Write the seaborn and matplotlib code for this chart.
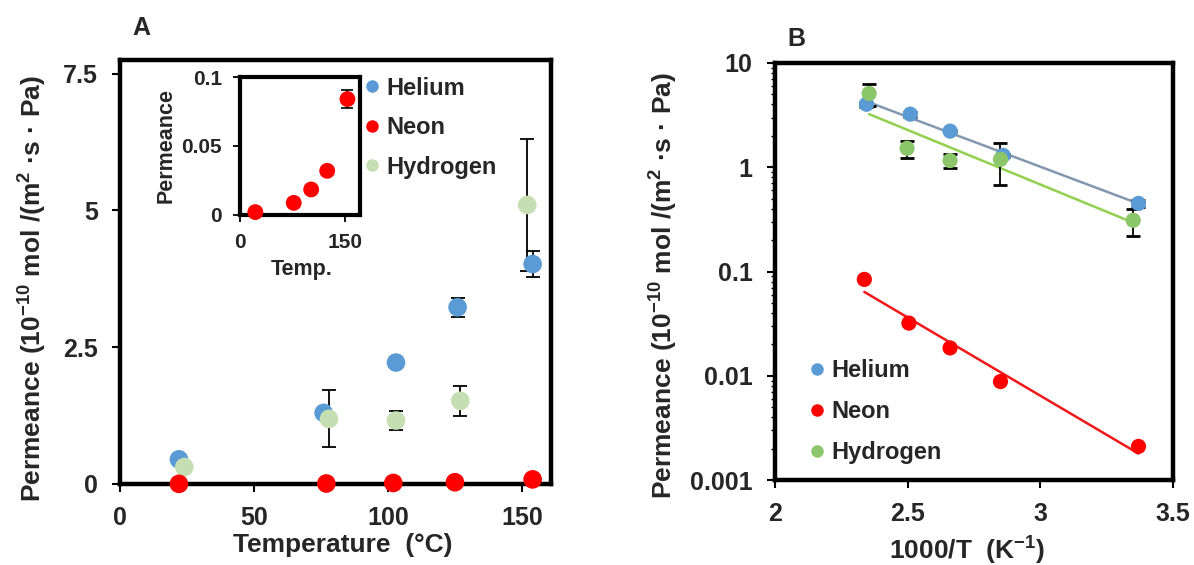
import numpy as np
import pandas as pd
import matplotlib
matplotlib.use("Agg")
import matplotlib.pyplot as plt
from matplotlib.lines import Line2D
import seaborn as sns

# ---------------- data ----------------
gases = ["Helium", "Neon", "Hydrogen"]

temp_he = [22, 76, 103, 126, 154]
temp_ne = [22, 77, 102, 125, 154]
temp_h2 = [24, 78, 103, 127, 152]

perm_he = [0.45, 1.30, 2.22, 3.23, 4.02]
perm_ne = [0.0021, 0.0088, 0.0185, 0.032, 0.084]
perm_h2 = [0.31, 1.19, 1.16, 1.52, 5.10]

err_he = [0.03, 0.05, 0.05, 0.17, 0.23]
err_ne = [0.0, 0.0, 0.0, 0.001, 0.0065]
err_h2 = [0.09, 0.52, 0.17, 0.28, 1.20]

# 1000/T for the same five measurements (same order as the temperatures)
invT_he = [3.37, 2.86, 2.66, 2.51, 2.345]
invT_ne = [3.37, 2.85, 2.66, 2.505, 2.337]
invT_h2 = [3.35, 2.85, 2.66, 2.498, 2.355]

ticksA_x = [0, 50, 100, 150]
ticksA_y = [0, 2.5, 5, 7.5]
ticklabA_y = ["0", "2.5", "5", "7.5"]
ticksB_x = [2, 2.5, 3, 3.5]
ticklabB_x = ["2", "2.5", "3", "3.5"]
ticksB_y = [0.001, 0.01, 0.1, 1, 10]
ticklabB_y = ["0.001", "0.01", "0.1", "1", "10"]
ticksI_x = [0, 150]
ticksI_y = [0, 0.05, 0.1]
ticklabI_y = ["0", "0.05", "0.1"]

colA = {"Helium": "#5B9BD5", "Neon": "#FF0000", "Hydrogen": "#C5DEB2"}
colB = {"Helium": "#5B9BD5", "Neon": "#FF0000", "Hydrogen": "#8CC66A"}
lineB = {"Helium": "#8497B0", "Neon": "#F01818", "Hydrogen": "#92D050"}

# ---------------- style ----------------
sns.set_theme(style="white")
plt.rcParams["font.family"] = ["Liberation Sans", "DejaVu Sans"]
plt.rcParams["font.weight"] = "bold"
plt.rcParams["mathtext.fontset"] = "custom"
plt.rcParams["mathtext.rm"] = "Liberation Sans:bold"
plt.rcParams["mathtext.bf"] = "Liberation Sans:bold"
plt.rcParams["mathtext.it"] = "Liberation Sans:bold"

TICK_FS = 18
LABEL_FS = 19
LEG_FS = 17

temps = {"Helium": temp_he, "Neon": temp_ne, "Hydrogen": temp_h2}
perms = {"Helium": perm_he, "Neon": perm_ne, "Hydrogen": perm_h2}
errs = {"Helium": err_he, "Neon": err_ne, "Hydrogen": err_h2}
invs = {"Helium": invT_he, "Neon": invT_ne, "Hydrogen": invT_h2}

draw_order = ["Helium", "Hydrogen", "Neon"]
rowsA, rowsB = [], []
for g in draw_order:
    for t, x, p, e in zip(temps[g], invs[g], perms[g], errs[g]):
        rowsA.append({"gas": g, "temp": t, "perm": p, "err": e})
        rowsB.append({"gas": g, "invT": x, "perm": p, "err": e})
dfA = pd.DataFrame(rowsA)
dfB = pd.DataFrame(rowsB)

fig = plt.figure(figsize=(11.94, 5.65), dpi=100)
axA = fig.add_axes([0.1005, 0.1434, 0.3613, 0.7504])
axB = fig.add_axes([0.649, 0.1504, 0.3334, 0.7381])
axI = fig.add_axes([0.201, 0.6195, 0.1005, 0.2442])

def frame(ax, lw=3.2):
    for s in ax.spines.values():
        s.set_visible(True)
        s.set_color("black")
        s.set_linewidth(lw)

def bold_ticks(ax):
    for lab in ax.get_xticklabels() + ax.get_yticklabels():
        lab.set_fontweight("bold")

# ---------------- panel A ----------------
for g in ["Helium", "Hydrogen"]:
    d = dfA[dfA.gas == g]
    axA.errorbar(d.temp, d.perm, yerr=d.err, fmt="none", ecolor="black",
                 elinewidth=1.3, capsize=5, capthick=1.3, zorder=2)
sns.scatterplot(data=dfA, x="temp", y="perm", hue="gas", palette=colA,
                hue_order=gases, s=180, edgecolor="none", linewidth=0,
                legend=False, ax=axA, zorder=3, clip_on=False)
axA.set_xlim(0, 161)
axA.set_ylim(0, 7.75)
axA.set_xticks(ticksA_x)
axA.set_xticklabels([str(t) for t in ticksA_x])
axA.set_yticks(ticksA_y)
axA.set_yticklabels(ticklabA_y)
frame(axA)
axA.tick_params(axis="both", which="major", direction="out", length=6,
                width=1.5, color="black", labelsize=TICK_FS, pad=10,
                bottom=True, left=True, top=False, right=False)
bold_ticks(axA)
axA.set_xlabel("Temperature  (°C)", fontsize=LABEL_FS, fontweight="bold")
axA.set_ylabel(r"Permeance (10$^{-10}$ mol /(m$^{2}$ ·s · Pa)",
               fontsize=LABEL_FS, fontweight="bold")
axA.xaxis.set_label_coords(0.516, -0.116)
axA.yaxis.set_label_coords(-0.165, 0.46)

handlesA = [Line2D([], [], marker="o", linestyle="none", markersize=9,
                   markerfacecolor=colA[g], markeredgecolor="none", label=g)
            for g in gases]
axA.legend(handles=handlesA, loc="upper left", bbox_to_anchor=(0.568, 0.961),
           frameon=False, handletextpad=0.3, labelspacing=0.7,
           handlelength=0.6, borderaxespad=0, borderpad=0,
           prop={"size": LEG_FS, "weight": "bold"})

# ---------------- inset ----------------
dN = dfA[dfA.gas == "Neon"]
axI.errorbar(dN.temp, dN.perm, yerr=dN.err, fmt="none", ecolor="black",
             elinewidth=1.2, capsize=4, capthick=1.2, zorder=2)
sns.scatterplot(data=dN, x="temp", y="perm", color=colA["Neon"], s=130,
                edgecolor="none", linewidth=0, legend=False, ax=axI,
                zorder=3, clip_on=False)
axI.set_xlim(0, 172)
axI.set_ylim(0, 0.1)
axI.set_xticks(ticksI_x)
axI.set_xticklabels([str(t) for t in ticksI_x])
axI.set_yticks(ticksI_y)
axI.set_yticklabels(ticklabI_y)
frame(axI, 3.0)
axI.tick_params(axis="both", which="major", direction="out", length=5,
                width=1.3, color="black", labelsize=15, pad=8,
                bottom=True, left=True, top=False, right=False)
bold_ticks(axI)
axI.set_xlabel("Temp.", fontsize=15.5, fontweight="bold")
axI.set_ylabel("Permeance", fontsize=15.5, fontweight="bold")
axI.xaxis.set_label_coords(0.51, -0.32)
axI.yaxis.set_label_coords(-0.53, 0.5)

# ---------------- panel B ----------------
for g in draw_order:
    d = dfB[dfB.gas == g]
    xs = np.asarray(d.invT, dtype=float)
    ly = np.log10(np.asarray(d.perm, dtype=float))
    k, b = np.polyfit(xs, ly, 1)
    xx = np.array([xs.min(), xs.max()])
    axB.plot(xx, 10 ** (k * xx + b), color=lineB[g], lw=1.8, zorder=1)
for g in ["Helium", "Hydrogen"]:
    d = dfB[dfB.gas == g]
    axB.errorbar(d.invT, d.perm, yerr=d.err, fmt="none", ecolor="black",
                 elinewidth=1.3, capsize=5, capthick=2.0, zorder=2)
sns.scatterplot(data=dfB, x="invT", y="perm", hue="gas", palette=colB,
                hue_order=gases, s=120, edgecolor="none", linewidth=0,
                legend=False, ax=axB, zorder=3, clip_on=False)
axB.set_yscale("log")
axB.set_xlim(2, 3.5)
axB.set_ylim(0.001, 10)
axB.set_xticks(ticksB_x)
axB.set_xticklabels(ticklabB_x)
axB.set_yticks(ticksB_y)
axB.set_yticklabels(ticklabB_y)
frame(axB)
axB.tick_params(axis="both", which="major", direction="out", length=6,
                width=1.5, color="black", labelsize=TICK_FS, pad=10,
                bottom=True, left=True, top=False, right=False)
axB.tick_params(axis="y", which="minor", direction="out", length=3,
                width=1.0, color="black", left=True, right=False)
axB.tick_params(axis="x", which="minor", bottom=False, top=False)
bold_ticks(axB)
axB.set_xlabel(r"1000/T  (K$^{-1}$)", fontsize=LABEL_FS, fontweight="bold")
axB.set_ylabel(r"Permeance (10$^{-10}$ mol /(m$^{2}$ ·s · Pa)",
               fontsize=LABEL_FS, fontweight="bold")
axB.xaxis.set_label_coords(0.483, -0.132)
axB.yaxis.set_label_coords(-0.239, 0.465)

handlesB = [Line2D([], [], marker="o", linestyle="none", markersize=9,
                   markerfacecolor=colB[g], markeredgecolor="none", label=g)
            for g in gases]
axB.legend(handles=handlesB, loc="upper left", bbox_to_anchor=(0.088, 0.29),
           frameon=False, handletextpad=0.3, labelspacing=0.76,
           handlelength=0.6, borderaxespad=0, borderpad=0,
           prop={"size": LEG_FS, "weight": "bold"})

fig.text(141 / 1194, 1 - 28 / 565, "A", fontsize=18, fontweight="bold",
         ha="center", va="center")
fig.text(796 / 1194, 1 - 39 / 565, "B", fontsize=18, fontweight="bold",
         ha="center", va="center")

fig.savefig("out.png", dpi=100, facecolor="white")
